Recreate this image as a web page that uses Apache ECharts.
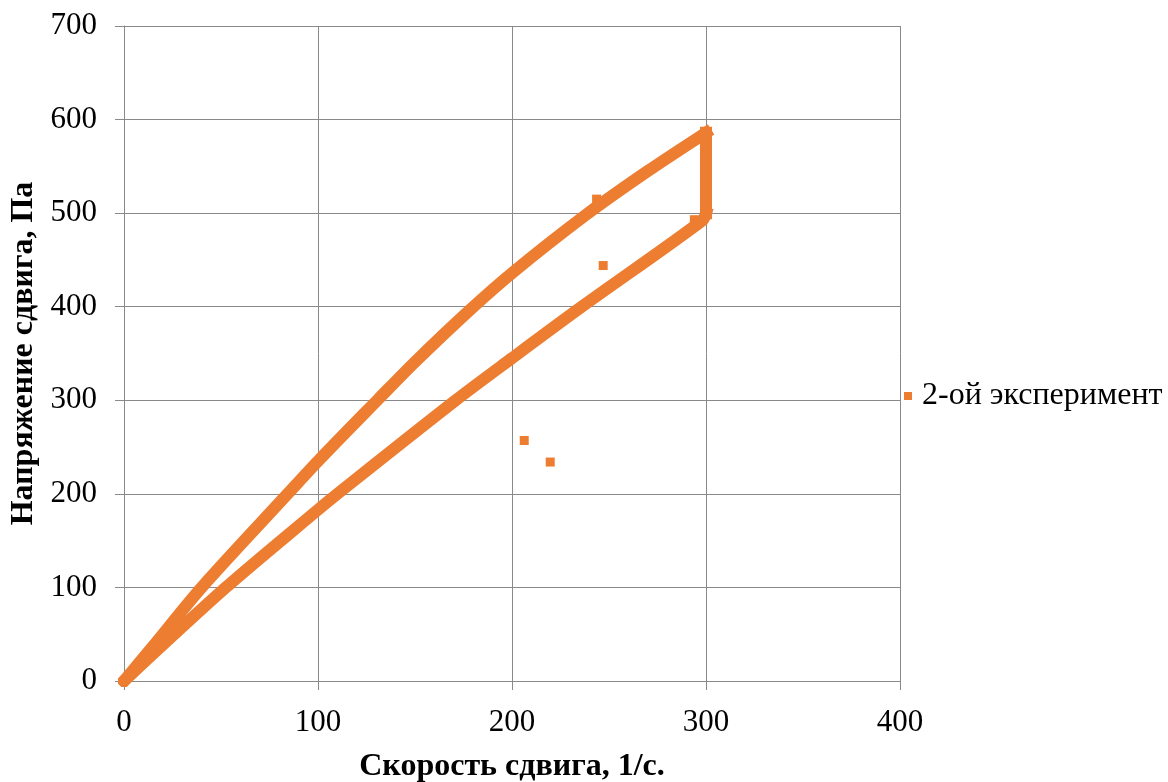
<!DOCTYPE html>
<html>
<head>
<meta charset="utf-8">
<script src="https://cdn.jsdelivr.net/npm/echarts@6/dist/echarts.min.js"></script>
<style>
  html, body { margin: 0; padding: 0; background: #ffffff; }
  #chart { width: 1168px; height: 782px; }
</style>
</head>
<body>
<div id="chart"></div>
<script>
// Shear stress vs shear rate, second run: ramp up, hold at 300 1/s, ramp down.
const seriesName = '2-ой эксперимент';
const xTitle = 'Скорость сдвига, 1/с.';
const yTitle = 'Напряжение сдвига, Па';
const xTicks = [0, 100, 200, 300, 400];
const yTicks = [0, 100, 200, 300, 400, 500, 600, 700];

// [shear rate, shear stress] — increasing rate branch
const rampUp = [
  [0, 0], [14.5, 36], [40, 100], [84.8, 201], [100, 235], [131, 301],
  [150, 341], [178, 396], [200, 436], [238, 498], [270, 545], [300, 586]
];
// stress relaxation at constant rate
const hold = [[300, 586], [300, 500]];
// decreasing rate branch
const rampDown = [
  [300, 500], [298, 492], [236, 400], [200, 345], [171, 300],
  [110, 200], [100, 183], [52, 99], [0, 0]
];
// isolated readings off the loop
const strays = [
  [243.6, 515], [247, 444], [206.3, 257], [219.7, 234], [294, 493]
];

const orange = '#ED7D31';
const gridGray = '#898989';
const font = '"Liberation Serif", "Times New Roman", serif';

const chart = echarts.init(document.getElementById('chart'), null, { renderer: 'canvas' });

const bandStyle = { color: orange, width: 12, cap: 'square', join: 'round' };
const bandSeries = (data, smooth) => ({
  name: seriesName,
  type: 'line',
  data: data,
  smooth: smooth,
  showSymbol: false,
  symbol: 'none',
  lineStyle: bandStyle,
  itemStyle: { color: orange },
  silent: true,
  animation: false
});

chart.setOption({
  backgroundColor: '#ffffff',
  animation: false,
  grid: { left: 124, top: 26, width: 776, height: 655, outerBoundsMode: 'none', containLabel: false },
  legend: {
    data: [{ name: seriesName, icon: 'rect' }],
    orient: 'vertical',
    left: 904,
    top: 380,
    padding: 0,
    itemWidth: 8,
    itemHeight: 8,
    itemGap: 0,
    textStyle: { fontFamily: font, fontSize: 32, color: '#000', padding: [0, 0, 0, 5] },
    selectedMode: false
  },
  xAxis: {
    type: 'value',
    min: xTicks[0],
    max: xTicks[xTicks.length - 1],
    interval: xTicks[1] - xTicks[0],
    name: xTitle,
    nameLocation: 'middle',
    nameGap: 70,
    nameTextStyle: { fontFamily: font, fontSize: 32, fontWeight: 'bold', color: '#000' },
    axisLine: { show: true, lineStyle: { color: gridGray, width: 1 } },
    axisTick: { show: true, length: 9, lineStyle: { color: gridGray } },
    axisLabel: { fontFamily: font, fontSize: 31, color: '#000', margin: 26 },
    splitLine: { show: true, lineStyle: { color: gridGray, width: 1 } }
  },
  yAxis: {
    type: 'value',
    min: yTicks[0],
    max: yTicks[yTicks.length - 1],
    interval: yTicks[1] - yTicks[0],
    name: yTitle,
    nameLocation: 'middle',
    nameGap: 80,
    nameTextStyle: { fontFamily: font, fontSize: 32, fontWeight: 'bold', color: '#000' },
    axisLine: { show: true, lineStyle: { color: gridGray, width: 1 } },
    axisTick: { show: true, length: 9, lineStyle: { color: gridGray } },
    axisLabel: { fontFamily: font, fontSize: 31, color: '#000', margin: 27 },
    splitLine: { show: true, lineStyle: { color: gridGray, width: 1 } }
  },
  series: [
    bandSeries(rampUp, 0.3),
    bandSeries(hold, false),
    bandSeries(rampDown, 0.3),
    {
      name: seriesName,
      type: 'scatter',
      data: strays,
      symbol: 'rect',
      symbolSize: 9,
      itemStyle: { color: orange, opacity: 1 },
      silent: true,
      animation: false
    }
  ]
});
</script>
</body>
</html>
